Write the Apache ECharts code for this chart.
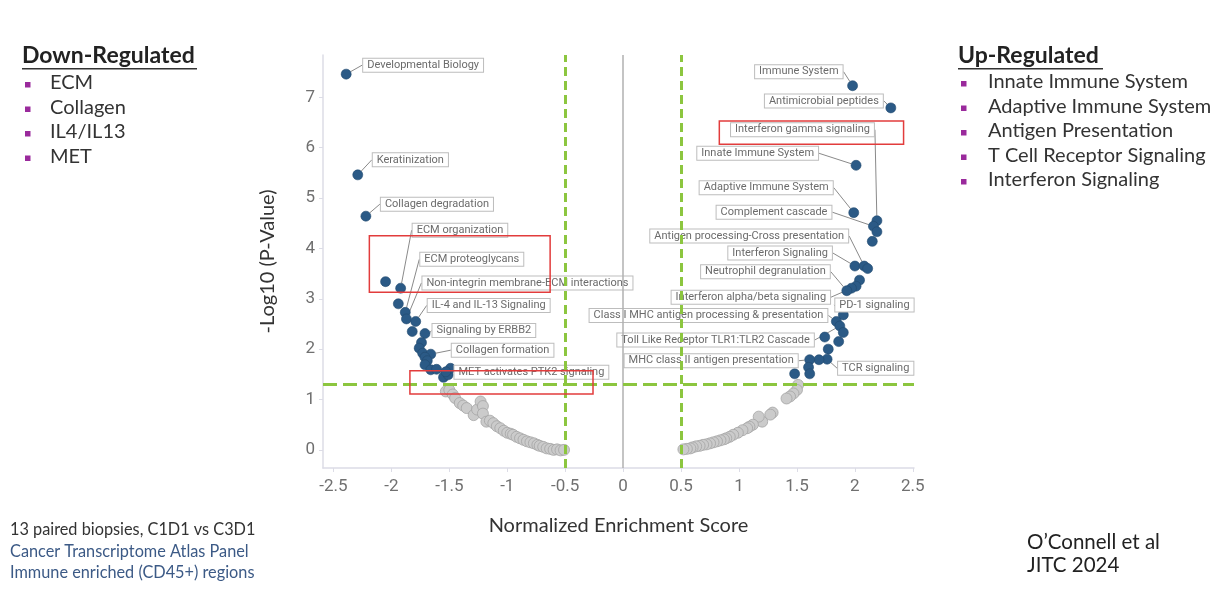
<!DOCTYPE html>
<html><head><meta charset="utf-8">
<script src="https://cdn.jsdelivr.net/npm/echarts@6/dist/echarts.min.js"></script>
<style>html,body{margin:0;padding:0;background:#fff}#c{width:1216px;height:611px}</style>
</head><body><div id="c"></div>
<script>
// ---- data ----
const xTicks = [-2.5, -2, -1.5, -1, -0.5, 0, 0.5, 1, 1.5, 2, 2.5];
const yTicks = [0, 1, 2, 3, 4, 5, 6, 7];

const downNES = [-2.39, -2.29, -2.22, -2.05, -1.92, -1.94, -1.88, -1.87, -1.79, -1.82, -1.71, -1.74, -1.76, -1.73, -1.66, -1.71, -1.69, -1.71, -1.66, -1.61, -1.55, -1.51, -1.49, -1.53];
const downP   = [7.46, 5.46, 4.64, 3.34, 3.21, 2.90, 2.73, 2.60, 2.55, 2.35, 2.31, 2.13, 2.02, 1.92, 1.90, 1.84, 1.77, 1.69, 1.59, 1.60, 1.44, 1.49, 1.62, 1.55];
const downNames = ['Developmental Biology', 'Keratinization', 'Collagen degradation', '', 'ECM organization', '', 'ECM proteoglycans', 'Non-integrin membrane-ECM interactions', 'IL-4 and IL-13 Signaling', '', '', 'Signaling by ERBB2', '', '', 'Collagen formation', '', '', '', '', '', '', '', 'MET activates PTK2 signaling', ''];

const upNES = [1.98, 2.31, 2.01, 1.99, 2.19, 2.16, 2.19, 2.15, 2.00, 2.08, 2.11, 2.04, 2.01, 1.97, 1.93, 1.90, 1.84, 1.87, 1.90, 1.74, 1.86, 1.77, 1.76, 1.69, 1.61, 1.60, 1.61, 1.48];
const upP   = [7.23, 6.79, 5.65, 4.71, 4.55, 4.44, 4.33, 4.14, 3.65, 3.65, 3.60, 3.37, 3.25, 3.21, 3.16, 2.68, 2.55, 2.46, 2.33, 2.24, 2.15, 2.00, 1.80, 1.79, 1.79, 1.64, 1.51, 1.51];
const upNames = ['Immune System', 'Antimicrobial peptides', 'Innate Immune System', 'Adaptive Immune System', 'Interferon gamma signaling', 'Complement cascade', '', '', 'Interferon Signaling', 'Antigen processing-Cross presentation', '', '', 'Interferon alpha/beta signaling', '', 'Neutrophil degranulation', 'PD-1 signaling', 'Class I MHC antigen processing & presentation', 'Toll Like Receptor TLR1:TLR2 Cascade', '', '', '', '', 'TCR signaling', '', 'MHC class II antigen presentation', '', '', ''];

const nsNES = [-1.53, -1.50, -1.47, -1.45, -1.41, -1.38, -1.35, -1.29, -1.26, -1.23, -1.21, -1.21, -1.18, -1.15, -1.12, -1.09, -1.06, -1.03, -1.00, -0.97, -0.95, -0.92, -0.89, -0.86, -0.83, -0.80, -0.77, -0.74, -0.72, -0.69, -0.66, -0.63, -0.60, -0.57, -0.54, -0.51,
               1.51, 1.50, 1.47, 1.44, 1.41, 1.29, 1.27, 1.20, 1.17, 1.12, 1.09, 1.07, 1.03, 0.99, 0.95, 0.92, 0.89, 0.87, 0.84, 0.81, 0.78, 0.75, 0.72, 0.69, 0.66, 0.63, 0.60, 0.58, 0.55, 0.52];
const nsP   = [1.16, 1.19, 1.10, 1.03, 0.93, 0.88, 0.83, 0.69, 0.80, 0.96, 0.87, 0.72, 0.56, 0.58, 0.53, 0.47, 0.43, 0.38, 0.34, 0.32, 0.30, 0.26, 0.23, 0.20, 0.17, 0.15, 0.13, 0.10, 0.08, 0.06, 0.03, 0.02, 0.00, 0.01, -0.01, 0.00,
               1.29, 1.19, 1.12, 1.06, 1.02, 0.74, 0.70, 0.56, 0.66, 0.50, 0.46, 0.43, 0.39, 0.34, 0.30, 0.26, 0.23, 0.21, 0.19, 0.17, 0.15, 0.13, 0.11, 0.10, 0.08, 0.07, 0.05, 0.03, 0.02, 0.01];

const downList = ['ECM', 'Collagen', 'IL4/IL13', 'MET'];
const upList = ['Innate Immune System', 'Adaptive Immune System', 'Antigen Presentation', 'T Cell Receptor Signaling', 'Interferon Signaling'];
const noteLines = ['13 paired biopsies, C1D1 vs C3D1', 'Cancer Transcriptome Atlas Panel', 'Immune enriched (CD45+) regions'];
const citeLines = ["O\u2019Connell et al", 'JITC 2024'];

// ---- label layout (pixel offsets of label box from point, layout only) ----
const labelOffsets = {
  'Developmental Biology': [17, -9, 'left'],
  'Keratinization': [15, -15, 'left'],
  'Collagen degradation': [15, -12, 'left'],
  'ECM organization': [12, -58, 'left'],
  'ECM proteoglycans': [15, -53, 'left'],
  'Non-integrin membrane-ECM interactions': [16, -36, 'left'],
  'IL-4 and IL-13 Signaling': [12, -16, 'left'],
  'Signaling by ERBB2': [11, -12, 'left'],
  'Collagen formation': [21, -4, 'left'],
  'MET activates PTK2 signaling': [4, 4, 'left'],
  'Immune System': [-10, -14, 'right'],
  'Antimicrobial peptides': [-8, -7, 'right'],
  'Interferon gamma signaling': [-3, -91, 'right'],
  'Innate Immune System': [-38, -12, 'right'],
  'Adaptive Immune System': [-21, -25, 'right'],
  'Complement cascade': [-42, -14, 'right'],
  'Antigen processing-Cross presentation': [-16, -30, 'right'],
  'Interferon Signaling': [-23, -13, 'right'],
  'Neutrophil degranulation': [-17, -19, 'right'],
  'Interferon alpha/beta signaling': [-26, 11, 'right'],
  'PD-1 signaling': [-8, -10, 'left'],
  'Class I MHC antigen processing & presentation': [-9, -6, 'right'],
  'Toll Like Receptor TLR1:TLR2 Cascade': [-26, 14, 'right'],
  'MHC class II antigen presentation': [-12, 1, 'right'],
  'TCR signaling': [11, 9, 'left']
};

function pts(xs, ys, names) {
  return xs.map((x, i) => {
    const n = names ? names[i] : '';
    const d = { value: [x, ys[i]], name: n };
    if (n) d.label = { show: true };
    return d;
  });
}

const labelStyle = {
  show: false, position: 'right', formatter: p => p.name,
  fontFamily: 'Roboto', fontSize: 11, color: '#6b6b6b',
  backgroundColor: '#fff', borderColor: '#bdbdbd', borderWidth: 1, padding: [1, 4, 1, 4]
};

function layoutFn() {
  return function (params) {
    const o = labelOffsets[params.text];
    if (!o) return {};
    const cx = params.rect.x + params.rect.width / 2;
    const cy = params.rect.y + params.rect.height / 2;
    return { x: cx + o[0], y: cy + o[1], align: o[2], verticalAlign: 'middle' };
  };
}

const chart = echarts.init(document.getElementById('c'), null, { renderer: 'canvas' });
const txtFont = 'Lato, "Open Sans", sans-serif';

const graphics = [];
graphics.push({ type: 'text', left: 22, top: 44, style: { text: 'Down-Regulated', font: 'bold 23px ' + txtFont, fill: '#222' } });
graphics.push({ type: 'rect', shape: { x: 22, y: 68, width: 175, height: 1.6 }, style: { fill: '#333' } });
downList.forEach((t, i) => {
  graphics.push({ type: 'rect', shape: { x: 25, y: 82 + i * 24.5, width: 5.5, height: 5.5 }, style: { fill: '#9a2a9c' } });
  graphics.push({ type: 'text', left: 50, top: 73 + i * 24.5, style: { text: t, font: '20px ' + txtFont, fill: '#333' } });
});
graphics.push({ type: 'text', left: 958, top: 44, style: { text: 'Up-Regulated', font: 'bold 23px ' + txtFont, fill: '#222' } });
graphics.push({ type: 'rect', shape: { x: 958, y: 68, width: 145, height: 1.6 }, style: { fill: '#333' } });
upList.forEach((t, i) => {
  graphics.push({ type: 'rect', shape: { x: 961, y: 81 + i * 24.5, width: 5.5, height: 5.5 }, style: { fill: '#9a2a9c' } });
  graphics.push({ type: 'text', left: 988, top: 72 + i * 24.5, style: { text: t, font: '20px ' + txtFont, fill: '#333' } });
});
noteLines.forEach((t, i) => {
  graphics.push({ type: 'text', left: 10, top: 522 + i * 21.5, style: { text: t, font: '16.3px ' + txtFont, fill: i === 0 ? '#333' : '#3c5a86' } });
});
citeLines.forEach((t, i) => {
  graphics.push({ type: 'text', left: 1027, top: 532 + i * 23, style: { text: t, font: '20.5px ' + txtFont, fill: '#222' } });
});

const option = {
  animation: false,
  backgroundColor: '#fff',
  grid: { left: 323, right: 302, top: 55, bottom: 143, containLabel: false },
  xAxis: {
    type: 'value', min: -2.59, max: 2.51,
    name: 'Normalized Enrichment Score', nameLocation: 'middle', nameGap: 48,
    nameTextStyle: { fontFamily: txtFont, fontSize: 20, color: '#333' },
    axisLine: { show: true, onZero: false, lineStyle: { color: '#dcdce6', width: 1.5 } },
    axisTick: { show: true, length: 4, customValues: xTicks, lineStyle: { color: '#dcdce6' } },
    axisLabel: { customValues: xTicks, fontFamily: 'Roboto', fontSize: 17, color: '#707070', margin: 10 },
    splitLine: { show: false }
  },
  yAxis: {
    type: 'value', min: -0.36, max: 7.84,
    name: '-Log10 (P-Value)', nameLocation: 'middle', nameGap: 45, nameRotate: 90,
    nameTextStyle: { fontFamily: txtFont, fontSize: 20, color: '#333' },
    axisLine: { show: true, onZero: false, lineStyle: { color: '#dcdce6', width: 1.5 } },
    axisTick: { show: true, length: 4, customValues: yTicks, lineStyle: { color: '#dcdce6' } },
    axisLabel: { customValues: yTicks, fontFamily: 'Roboto', fontSize: 17, color: '#707070', margin: 8 },
    splitLine: { show: false }
  },
  graphic: graphics,
  series: [
    {
      type: 'scatter', name: 'ns', z: 2,
      data: pts(nsNES, nsP, null),
      symbolSize: 11,
      itemStyle: { color: '#cbcbcb', borderColor: '#a5a5a5', borderWidth: 0.8, opacity: 1 },
      markLine: {
        silent: true, symbol: 'none', label: { show: false }, animation: false,
        data: [
          { xAxis: 0, lineStyle: { color: '#b0b0b0', width: 1.5, type: 'solid' } },
          { xAxis: -0.5, lineStyle: { color: '#8cc63f', width: 3, type: [9, 5] } },
          { xAxis: 0.5, lineStyle: { color: '#8cc63f', width: 3, type: [9, 5] } },
          { yAxis: 1.3, lineStyle: { color: '#8cc63f', width: 3, type: [14, 6] } }
        ]
      }
    },
    {
      type: 'scatter', name: 'down', z: 3,
      data: pts(downNES, downP, downNames),
      symbolSize: 10,
      itemStyle: { color: '#2b5a86', borderColor: '#22496f', borderWidth: 0.6, opacity: 1 },
      label: labelStyle,
      labelLine: { show: true, lineStyle: { color: '#8a8a8a', width: 1 } },
      labelLayout: layoutFn()
    },
    {
      type: 'scatter', name: 'up', z: 3,
      data: pts(upNES, upP, upNames),
      symbolSize: 10,
      itemStyle: { color: '#2b5a86', borderColor: '#22496f', borderWidth: 0.6, opacity: 1 },
      label: labelStyle,
      labelLine: { show: true, lineStyle: { color: '#8a8a8a', width: 1 } },
      labelLayout: layoutFn(),
      markArea: {
        silent: true, z: 10,
        itemStyle: { color: 'rgba(0,0,0,0)', borderColor: '#e23c3c', borderWidth: 1.5 },
        data: [
          [{ coord: [-2.19, 4.25] }, { coord: [-0.63, 3.13] }],
          [{ coord: [-1.84, 1.57] }, { coord: [-0.26, 1.11] }],
          [{ coord: [0.83, 6.53] }, { coord: [2.42, 6.07] }]
        ]
      }
    }
  ]
};
chart.setOption(option);
</script>
</body></html>
